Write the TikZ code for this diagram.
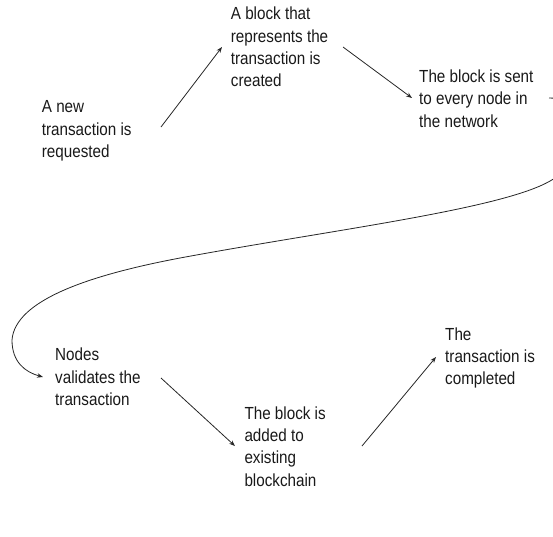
\documentclass[tikz,border=0pt]{standalone}
\usepackage{fontspec}
\setmainfont{Liberation Sans}[FakeStretch=0.87]
\usetikzlibrary{arrows.meta}
\begin{document}
\begin{tikzpicture}[x=1pt,y=-1pt,
  txt/.style={anchor=base west, inner sep=0pt, align=left,
    font=\fontsize{17.5}{22.4}\selectfont, text=black!90},
  conn/.style={draw=black!85, line width=0.8pt, -{Stealth[length=6pt,width=4.5pt]}}]
\useasboundingbox (0,0) rectangle (553,536);
% anchor base west = baseline of the last line
\node[txt] (t1) at (41.7,157.5) {A new\\transaction is\\requested};
\node[txt] (t2) at (230.7,86.9) {A block that\\represents the\\transaction is\\created};
\node[txt] (t3) at (419,127.1) {The block is sent\\to every node in\\the network};
\node[txt] (t4) at (55,405.5) {Nodes\\validates the\\transaction};
\node[txt] (t5) at (244.3,486.2) {The block is\\added to\\existing\\blockchain};
\node[txt] (t6) at (445,384.8) {The\\transaction is\\completed};
\coordinate (a1s) at (161,127);
\coordinate (a1e) at (222,47);
\coordinate (a2s) at (343,47);
\coordinate (a2e) at (412,98);
\coordinate (a3s) at (161,378);
\coordinate (a3e) at (235,446);
\coordinate (a4s) at (362,446);
\coordinate (a4e) at (436,357);
\coordinate (cs) at (549,98);
\coordinate (ce) at (43,377);
\draw[conn] (a1s) -- (a1e);
\draw[conn] (a2s) -- (a2e);
\draw[conn] (a3s) -- (a3e);
\draw[conn] (a4s) -- (a4e);
\begin{scope}
\clip (0,0) rectangle (553,536);
\draw[conn] (cs) .. controls (600,98) and (600,160) .. (540,186)
  .. controls (480,212) and (320,232) .. (180,258)
  .. controls (90,275) and (15,300) .. (12,340)
  .. controls (12,362) and (25,372) .. (ce);
\end{scope}
\end{tikzpicture}
\end{document}
